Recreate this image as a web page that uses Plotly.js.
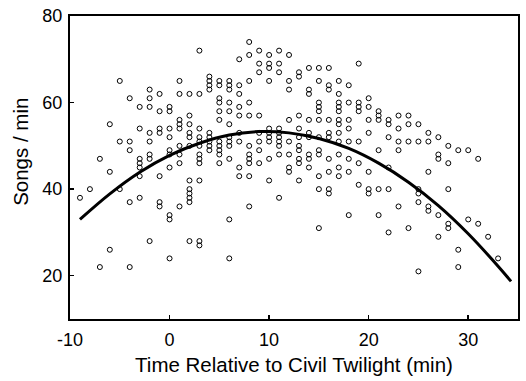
<!DOCTYPE html>
<html>
<head>
<meta charset="utf-8">
<script src="https://cdn.plot.ly/plotly-3.0.1.min.js"></script>
<style>html,body{margin:0;padding:0;background:#fff;}#chart{width:526px;height:381px;}</style>
</head>
<body>
<div id="chart"></div>
<script>
// Observed song rates, grouped by minute relative to civil twilight
const minutes = [-9,-8,-7,-6,-5,-4,-3,-2,-1,0,1,2,3,4,5,6,7,8,9,10,11,12,13,14,15,16,17,18,19,20,21,22,23,24,25,26,27,28,29,30,31,32,33];
const songsByMinute = [
  [38],
  [40],
  [47,22],
  [55,44,26],
  [65,51,40],
  [61,51,49,37,22],
  [59,54,47,46,45,43,38],
  [63,61,59,53,51,48,47,28],
  [62,58,54,53,43,37,36],
  [59,58,54,52,49,48,45,34,33,24],
  [65,62,56,55,54,50,48,46,36],
  [62,57,55,53,52,50,42,40,39,38,37,28],
  [72,62,54,52,51,50,48,47,46,42,28,27],
  [66,65,64,63,53,52,51,50,49],
  [65,64,61,60,58,56,51,50,49,48,46],
  [65,64,63,60,58,55,52,51,50,47,33,24],
  [70,64,62,59,57,53,51,45,43],
  [74,71,65,60,57,50,48,47,46,43,36],
  [72,69,67,57,53,51,49,46],
  [71,69,68,65,54,53,52,51,47,42],
  [72,69,67,54,53,52,51,50,48,38],
  [71,65,63,56,51,48,45,44],
  [67,66,57,54,52,50,49,47,46,42],
  [68,63,62,56,53,52,48,47,45],
  [68,65,60,59,58,56,52,49,48,43,40,31],
  [68,64,63,56,53,52,47,44,40,39],
  [65,62,60,59,58,56,55,53,51,48,45,43],
  [64,60,56,54,51,47,44,34],
  [69,60,59,58,51,46,41],
  [61,59,56,53,44,40,39],
  [58,57,56,49,40,34],
  [56,55,52,45,40,30],
  [57,54,51,49,36],
  [57,55,51,31],
  [55,51,40,39,37,21],
  [53,51,44,36,35],
  [52,48,47,34,29],
  [50,46,40,32,31],
  [49,26,22],
  [49,33],
  [47,32],
  [29],
  [24]
];
// Fitted curve
const fitX = [-9,-6,-3,0,3,6,9,12,15,18,21,24,27,30,33,34.3];
const fitY = [33.0,38.9,43.9,47.8,50.6,52.5,53.3,53.0,51.7,49.4,46.0,41.6,36.2,29.7,22.2,18.7];

const xTicks = [-10,0,10,20,30];
const yTicks = [20,40,60,80];
const xTitle = 'Time Relative to Civil Twilight (min)';
const yTitle = 'Songs / min';

const px = [], py = [];
minutes.forEach((m, i) => songsByMinute[i].forEach(v => { px.push(m); py.push(v); }));

const family = 'Arial, "Liberation Sans", sans-serif';
const tickFont = {family: family, size: 18, color: '#000'};
const titleFont = {family: family, size: 20.5, color: '#000'};

const traces = [
  {x: px, y: py, type: 'scatter', mode: 'markers',
   marker: {symbol: 'circle-open', size: 5, color: '#000', line: {width: 1, color: '#000'}},
   hoverinfo: 'skip'},
  {x: fitX, y: fitY, type: 'scatter', mode: 'lines',
   line: {color: '#000', width: 3, shape: 'spline'}, hoverinfo: 'skip'}
];

const axisBase = {
  showgrid: false, zeroline: false, showline: true, mirror: true,
  linecolor: '#000', linewidth: 2,
  ticks: 'inside', ticklen: 4, tickwidth: 1.5, tickcolor: '#000',
  tickfont: tickFont
};

const layout = {
  width: 526, height: 381,
  margin: {l: 70, r: 8, t: 16, b: 62},
  paper_bgcolor: '#fff', plot_bgcolor: '#fff',
  showlegend: false,
  font: tickFont,
  xaxis: Object.assign({}, axisBase, {
    range: [-10, 35], tickvals: xTicks, ticktext: xTicks.map(String),
    ticklabelstandoff: 3,
    title: {text: xTitle, font: titleFont, standoff: 9}
  }),
  yaxis: Object.assign({}, axisBase, {
    range: [10, 80], tickvals: yTicks, ticktext: yTicks.map(String),
    ticklabelstandoff: 2
  }),
  annotations: [{
    text: yTitle, textangle: -90, font: titleFont, showarrow: false,
    xref: 'paper', yref: 'paper', x: -0.112, y: 0.551,
    xanchor: 'center', yanchor: 'middle'
  }]
};

Plotly.newPlot('chart', traces, layout, {staticPlot: true, displayModeBar: false});
</script>
</body>
</html>
